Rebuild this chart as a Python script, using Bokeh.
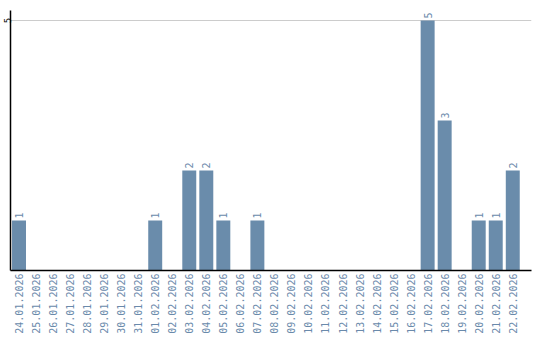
import math
from bokeh.plotting import figure
from bokeh.models import ColumnDataSource, Range1d, FixedTicker
from bokeh.core.properties import value
from bokeh.embed import file_html
from bokeh.resources import INLINE

dates = ["24.01.2026", "25.01.2026", "26.01.2026", "27.01.2026", "28.01.2026",
         "29.01.2026", "30.01.2026", "31.01.2026", "01.02.2026", "02.02.2026",
         "03.02.2026", "04.02.2026", "05.02.2026", "06.02.2026", "07.02.2026",
         "08.02.2026", "09.02.2026", "10.02.2026", "11.02.2026", "12.02.2026",
         "13.02.2026", "14.02.2026", "15.02.2026", "16.02.2026", "17.02.2026",
         "18.02.2026", "19.02.2026", "20.02.2026", "21.02.2026", "22.02.2026"]
counts = [1, 0, 0, 0, 0, 0, 0, 0, 1, 0,
          2, 2, 1, 0, 1, 0, 0, 0, 0, 0,
          0, 0, 0, 0, 5, 3, 0, 1, 1, 2]
y_ticks = [5]

BAR = "#6a8cab"
TXT = "#6a8aab"
FONT = "DejaVu Sans Mono"

xs = [i + 0.5 for i in range(len(dates))]
src = ColumnDataSource(dict(x=xs, top=counts))
lab = ColumnDataSource(dict(
    x=[x for x, c in zip(xs, counts) if c > 0],
    y=[c for c in counts if c > 0],
    t=[str(c) for c in counts if c > 0],
))

p = figure(width=540, height=340, output_backend="svg", toolbar_location=None,
           x_range=Range1d(0, 30.6), y_range=Range1d(0, 5.2),
           min_border_left=10, min_border_right=9, min_border_top=10,
           min_border_bottom=70, min_border=0)
p.outline_line_color = None
p.background_fill_color = "white"
p.border_fill_color = "white"

p.vbar(x="x", top="top", bottom=0, width=0.82, source=src,
       fill_color=BAR, line_color=None)

p.text(x="x", y="y", text="t", source=lab, angle=math.pi / 2,
       text_align="left", text_baseline="middle", y_offset=-2,
       text_font=value(FONT), text_font_size="10px", text_color=TXT)

# x axis
xa = p.xaxis[0]
xa.ticker = FixedTicker(ticks=xs)
xa.major_label_overrides = {x: d for x, d in zip(xs, dates)}
xa.major_label_orientation = math.pi / 2
xa.major_label_text_font = FONT
xa.major_label_text_font_size = "10px"
xa.major_label_text_color = TXT
xa.major_label_standoff = 3
xa.major_tick_out = 0
xa.major_tick_in = 0
xa.major_tick_line_color = None
xa.minor_tick_line_color = None
xa.axis_line_color = "black"
xa.axis_line_width = 1.5

# y axis
ya = p.yaxis[0]
ya.ticker = FixedTicker(ticks=y_ticks)
ya.major_label_orientation = "vertical"
ya.major_label_text_font = FONT
ya.major_label_text_font_size = "9px"
ya.major_label_text_color = "black"
ya.major_label_standoff = 0
ya.major_tick_out = 0
ya.major_tick_in = 0
ya.minor_tick_line_color = None
ya.axis_line_color = "black"
ya.axis_line_width = 1.5

p.xgrid.grid_line_color = None
p.ygrid.ticker = FixedTicker(ticks=y_ticks)
p.ygrid.grid_line_color = "#cccccc"
p.ygrid.grid_line_width = 1

open("out.html", "w").write(file_html(p, INLINE))
